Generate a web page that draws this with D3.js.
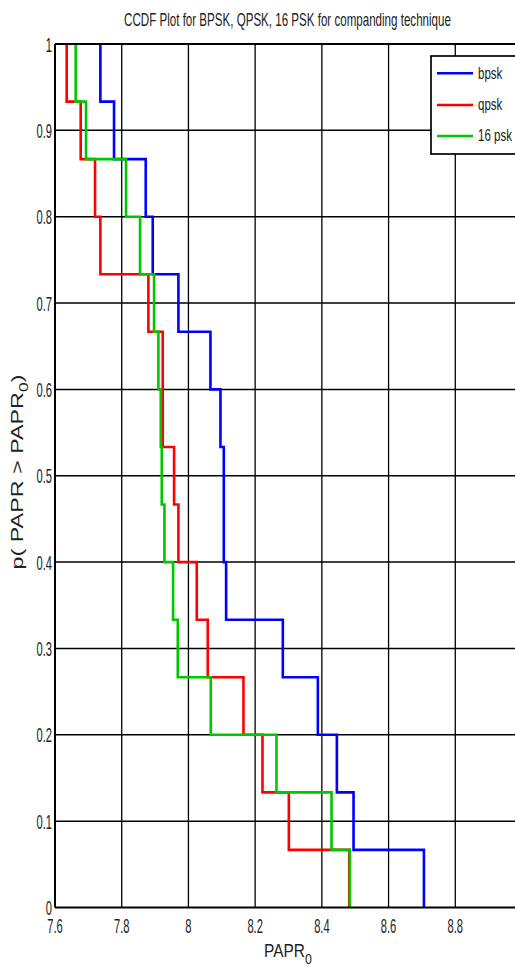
<!DOCTYPE html>
<html><head><meta charset="utf-8">
<script src="https://cdn.jsdelivr.net/npm/d3@7"></script>
<style>body{margin:0;background:#fff;overflow:hidden}svg{display:block}</style>
</head><body>
<svg id="c" width="515" height="967"></svg>
<script>
// ---- data ----
const xTicks = [7.6, 7.8, 8.0, 8.2, 8.4, 8.6, 8.8];
const xTickLabels = ["7.6", "7.8", "8", "8.2", "8.4", "8.6", "8.8"];
const yTicks = [0, 0.1, 0.2, 0.3, 0.4, 0.5, 0.6, 0.7, 0.8, 0.9, 1];
const yTickLabels = ["0", "0.1", "0.2", "0.3", "0.4", "0.5", "0.6", "0.7", "0.8", "0.9", "1"];
// CCDF levels before each drop (15 samples)
const ccdfLevels = [1, 0.9333, 0.8667, 0.8, 0.7333, 0.6667, 0.6, 0.5333, 0.4667, 0.4, 0.3333, 0.2667, 0.2, 0.1333, 0.0667, 0];
const seriesNames = ["bpsk", "qpsk", "16 psk"];
const bpskPAPR = [7.736, 7.777, 7.872, 7.893, 7.970, 8.066, 8.096, 8.106, 8.106, 8.113, 8.283, 8.388, 8.445, 8.495, 8.706];
const qpskPAPR = [7.635, 7.677, 7.720, 7.736, 7.880, 7.923, 7.923, 7.957, 7.970, 8.025, 8.058, 8.165, 8.222, 8.301, 8.482];
const psk16PAPR = [7.662, 7.693, 7.813, 7.855, 7.897, 7.910, 7.917, 7.920, 7.928, 7.954, 7.968, 8.067, 8.264, 8.429, 8.484];
const seriesColors = ["#0000ff", "#ff0000", "#00c800"];

// ---- chart ----
const svg = d3.select("#c");
const x = d3.scaleLinear().domain([7.6, 9.0]).range([55, 522]);
const y = d3.scaleLinear().domain([0, 1]).range([907.5, 44]);
const FONT = "'Liberation Sans', Arial, sans-serif";

// grid
const g = svg.append("g");
g.selectAll(".vg").data(xTicks.slice(1)).join("line")
  .attr("x1", d => x(d)).attr("x2", d => x(d)).attr("y1", y(0)).attr("y2", y(1))
  .attr("stroke", "#000").attr("stroke-width", 1.3);
g.selectAll(".hg").data(yTicks.slice(1, -1)).join("line")
  .attr("x1", x(7.6)).attr("x2", x(9.0)).attr("y1", d => y(d)).attr("y2", d => y(d))
  .attr("stroke", "#000").attr("stroke-width", 1.5);

// series
const all = [bpskPAPR, qpskPAPR, psk16PAPR];
const line = d3.line().x(d => x(d[0])).y(d => y(d[1])).curve(d3.curveStepBefore);
all.forEach((vals, si) => {
  const pts = vals.map((v, i) => [v, ccdfLevels[i]]);
  pts.push([vals[vals.length - 1], ccdfLevels[vals.length]]);
  svg.append("path").attr("d", line(pts)).attr("fill", "none")
    .attr("stroke", seriesColors[si]).attr("stroke-width", 2.6);
});

// axes box
svg.append("line").attr("x1", x(7.6)).attr("x2", x(7.6)).attr("y1", y(1)).attr("y2", y(0)).attr("stroke", "#000").attr("stroke-width", 2);
svg.append("line").attr("x1", x(7.6)).attr("x2", x(9.0)).attr("y1", y(0)).attr("y2", y(0)).attr("stroke", "#000").attr("stroke-width", 2.2);
svg.append("line").attr("x1", x(7.6)).attr("x2", x(9.0)).attr("y1", y(1)).attr("y2", y(1)).attr("stroke", "#000").attr("stroke-width", 2);

// tick labels
const TS = 21, TSX = 0.53;
svg.selectAll(".yl").data(yTicks).join("text")
  .attr("transform", d => `translate(52,${y(d)}) scale(${TSX},1)`)
  .attr("dy", "0.36em").attr("text-anchor", "end")
  .attr("font-family", FONT).attr("font-size", TS).attr("fill", "#222")
  .text((d, i) => yTickLabels[i]);
svg.selectAll(".xl").data(xTicks).join("text")
  .attr("transform", d => `translate(${x(d)},933) scale(${TSX},1)`)
  .attr("text-anchor", "middle")
  .attr("font-family", FONT).attr("font-size", TS).attr("fill", "#222")
  .text((d, i) => xTickLabels[i]);

function fitWidth(sel, w) {
  const node = sel.node();
  const len = node.getBBox().width;
  return w / len;
}

// title
const title = svg.append("g");
const tt = title.append("text").attr("font-family", FONT).attr("font-size", 17.5).attr("fill", "#222")
  .attr("text-anchor", "middle").text("CCDF Plot for BPSK, QPSK, 16 PSK for companding technique");
title.attr("transform", `translate(287.5,26) scale(${fitWidth(tt, 327)},1)`);

// x label
const xl = svg.append("g");
const xlt = xl.append("text").attr("font-family", FONT).attr("font-size", 17.5).attr("fill", "#222").attr("text-anchor", "middle");
xlt.append("tspan").text("PAPR");
xlt.append("tspan").attr("dy", 7).attr("font-size", 14).text("0");
xl.attr("transform", `translate(288,957) scale(${fitWidth(xlt, 48)},1)`);

// y label
const yl = svg.append("g");
const ylt = yl.append("text").attr("font-family", FONT).attr("font-size", 16).attr("fill", "#222").attr("text-anchor", "middle");
ylt.append("tspan").text("p( PAPR > PAPR");
ylt.append("tspan").attr("dy", 5).attr("font-size", 12).text("0");
ylt.append("tspan").attr("dy", -5).text(")");
yl.attr("transform", `translate(23,472) rotate(-90) scale(${fitWidth(ylt, 195)},1)`);

// legend
const lg = svg.append("g");
lg.append("rect").attr("x", 431).attr("y", 56).attr("width", 100).attr("height", 98)
  .attr("fill", "#fff").attr("stroke", "#000").attr("stroke-width", 1.7);
const legY = [73.3, 105, 136];
seriesNames.forEach((n, i) => {
  lg.append("line").attr("x1", 437).attr("x2", 473).attr("y1", legY[i]).attr("y2", legY[i])
    .attr("stroke", seriesColors[i]).attr("stroke-width", 2.6);
  lg.append("text").attr("transform", `translate(478,${legY[i]}) scale(0.72,1)`)
    .attr("dy", "0.33em").attr("font-family", FONT).attr("font-size", 16).attr("fill", "#222").text(n);
});
</script>
</body></html>
